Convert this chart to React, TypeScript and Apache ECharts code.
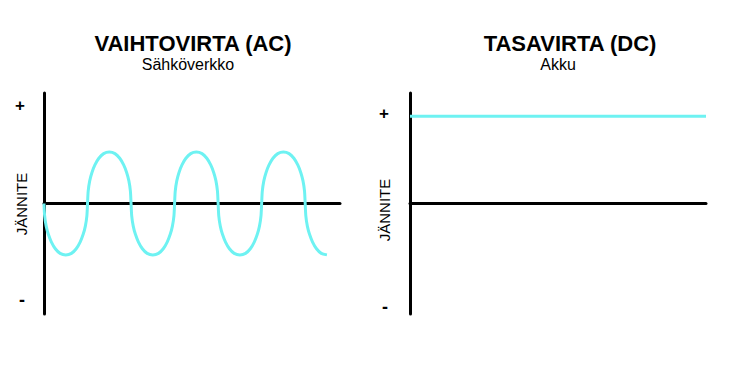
import React, { useEffect, useRef } from "react";
import * as echarts from "echarts";

// AC panel: time in half-periods, voltage
const acTime = [
  0, 0.015, 0.05, 0.1, 0.17, 0.26, 0.37, 0.5, 0.63, 0.74, 0.83, 0.9, 0.95, 0.985,
  1, 1.015, 1.05, 1.1, 1.17, 1.26, 1.37, 1.5, 1.63, 1.74, 1.83, 1.9, 1.95, 1.985,
  2, 2.015, 2.05, 2.1, 2.17, 2.26, 2.37, 2.5, 2.63, 2.74, 2.83, 2.9, 2.95, 2.985,
  3, 3.015, 3.05, 3.1, 3.17, 3.26, 3.37, 3.5, 3.63, 3.74, 3.83, 3.9, 3.95, 3.985,
  4, 4.015, 4.05, 4.1, 4.17, 4.26, 4.37, 4.5, 4.63, 4.74, 4.83, 4.9, 4.95, 4.985,
  5, 5.015, 5.05, 5.1, 5.17, 5.26, 5.37, 5.5, 5.63, 5.74, 5.83, 5.9, 5.95, 5.985,
  6, 6.015, 6.05, 6.1, 6.17, 6.26, 6.37, 6.5,
];
const acVoltage = [
  0, -0.24, -0.44, -0.6, -0.75, -0.88, -0.97, -1, -0.97, -0.88, -0.75, -0.6, -0.44, -0.24,
  0, 0.24, 0.44, 0.6, 0.75, 0.88, 0.97, 1, 0.97, 0.88, 0.75, 0.6, 0.44, 0.24,
  0, -0.24, -0.44, -0.6, -0.75, -0.88, -0.97, -1, -0.97, -0.88, -0.75, -0.6, -0.44, -0.24,
  0, 0.24, 0.44, 0.6, 0.75, 0.88, 0.97, 1, 0.97, 0.88, 0.75, 0.6, 0.44, 0.24,
  0, -0.24, -0.44, -0.6, -0.75, -0.88, -0.97, -1, -0.97, -0.88, -0.75, -0.6, -0.44, -0.24,
  0, 0.24, 0.44, 0.6, 0.75, 0.88, 0.97, 1, 0.97, 0.88, 0.75, 0.6, 0.44, 0.24,
  0, -0.24, -0.44, -0.6, -0.75, -0.88, -0.97, -1,
];

// DC panel
const dcTime = [0, 1];
const dcVoltage = [1.7, 1.7];

const titles = ["VAIHTOVIRTA (AC)", "TASAVIRTA (DC)"];
const subtitles = ["Sähköverkko", "Akku"];
const axisName = "JÄNNITE";
const plusLabel = "+";
const minusLabel = "-";

const FONT = "'Liberation Sans', Arial, sans-serif";
const WAVE = "#6ef2f2";

export default function App() {
  const ref = useRef<HTMLDivElement>(null);
  useEffect(() => {
    if (!ref.current) return;
    const chart = echarts.init(ref.current, null, { renderer: "svg" });
    const axisLine = { show: true, onZero: true, lineStyle: { color: "#000", width: 3 } };
    const hidden = {
      axisTick: { show: false },
      axisLabel: { show: false },
      splitLine: { show: false },
    };
    const txt = (
      text: string,
      x: number,
      y: number,
      size: number,
      weight: string = "normal",
      rotation = 0
    ) => ({
      type: "text",
      x,
      y,
      rotation,
      style: {
        text,
        fill: "#000",
        font: `${weight} ${size}px ${FONT}`,
        textAlign: "center",
        textVerticalAlign: "middle",
      },
    });
    chart.setOption({
      animation: false,
      backgroundColor: "#fff",
      grid: [
        { left: 44, width: 296, top: 93, bottom: 75 },
        { left: 410, width: 296, top: 93, bottom: 75 },
      ],
      xAxis: [
        { type: "value", gridIndex: 0, min: 0, max: 6.8, axisLine, ...hidden },
        { type: "value", gridIndex: 1, min: 0, max: 1, axisLine, ...hidden },
      ],
      yAxis: [
        { type: "value", gridIndex: 0, min: -2.15, max: 2.15, axisLine, ...hidden },
        { type: "value", gridIndex: 1, min: -2.15, max: 2.15, axisLine, ...hidden },
      ],
      series: [
        {
          type: "line",
          xAxisIndex: 0,
          yAxisIndex: 0,
          data: acTime.map((t, i) => [t, acVoltage[i]]),
          showSymbol: false,
          smooth: 0.25,
          lineStyle: { color: WAVE, width: 3 },
          z: 1,
        },
        {
          type: "line",
          xAxisIndex: 1,
          yAxisIndex: 1,
          data: dcTime.map((t, i) => [t, dcVoltage[i]]),
          showSymbol: false,
          lineStyle: { color: WAVE, width: 3 },
          z: 1,
        },
      ],
      graphic: [
        txt(titles[0], 193, 43.5, 22, "bold"),
        txt(subtitles[0], 188, 64, 16),
        txt(titles[1], 570, 43.5, 22, "bold"),
        txt(subtitles[1], 558, 64, 16),
        txt(plusLabel, 20, 105, 17, "bold"),
        txt(minusLabel, 22, 300, 18, "bold"),
        txt(plusLabel, 384, 113, 17, "bold"),
        txt(minusLabel, 385, 307, 18, "bold"),
        txt(axisName, 21, 204, 15, "normal", Math.PI / 2),
        txt(axisName, 384, 210, 15, "normal", Math.PI / 2),
      ],
    });
    return () => chart.dispose();
  }, []);
  return (
    <div
      ref={ref}
      style={{ position: "fixed", left: 0, top: 0, width: 739, height: 389, background: "#fff" }}
    />
  );
}
